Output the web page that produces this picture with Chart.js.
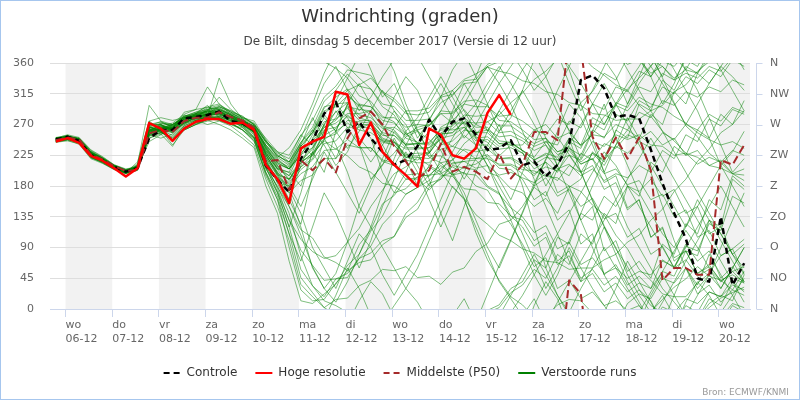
<!DOCTYPE html>
<html>
<head>
<meta charset="utf-8">
<title>Windrichting (graden)</title>
<script src="https://cdn.jsdelivr.net/npm/chart.js@4.4.1/dist/chart.umd.min.js"></script>
<style>
    html, body { margin: 0; padding: 0; background: #fff; }
    #wrap { position: relative; width: 800px; height: 400px; box-sizing: border-box; border: 1px solid #a6c6ee; }
    #wind { display: block; }
    #bron { position: absolute; right: 10px; bottom: 2px; font: 9px "DejaVu Sans", sans-serif; color: #999; }
</style>
</head>
<body>
<div id="wrap">
    <canvas id="wind" width="798" height="398"></canvas>
    <div id="bron">Bron: ECMWF/KNMI</div>
</div>
<script>
// hours counted from 05-12 00:00; first step is run (12 UTC) + 6h = 19:00, then every 6 hours
var firstHour = 19, stepHours = 6;

var dayNames = ['wo','do','vr','za','zo','ma','di','wo','do','vr','za','zo','ma','di','wo'];
var dayDates = ['06-12','07-12','08-12','09-12','10-12','11-12','12-12','13-12','14-12','15-12','16-12','17-12','18-12','19-12','20-12'];
var dirLabels = ['N','NO','O','ZO','Z','ZW','W','NW','N'];

var controle = [248,252,246,225,218,208,201,206, 250,262,262,279,281,284,289,275,
    272,262,210,189,171,220,245,286, 303,259,274,250,230,211,218,238,
    277,252,274,279,255,233,235,247, 210,216,194,211,242,335,342,323,
    281,284,279,233,184,140,103,45, 40,135,35,67];

var hogeResolutie = [245,250,243,224,217,206,194,206, 272,264,246,264,274,278,278,271,
    273,262,211,190,155,235,245,252, 318,314,240,273,230,211,196,179,
    264,255,225,220,235,287,313,284];

var middelste = [247,251,248,226,219,209,202,203, 257,262,259,275,280,280,288,281,
    276,265,216,218,174,218,203,220, 200,250,279,289,270,238,216,191,
    203,242,201,208,201,190,228,191, 211,259,259,247,42,22,252,220,
    251,220,251,203,42,60,60,50, 50,218,211,240];

var runs = [
    [246,250,247,228,216,206,200,204,262,266,258,274,278,283,286,278,270,258,222,196,
     190,218,236,270,288,302,280,274,250,244,222,218,228,256,258,274,252,244,224,240,
     240,262,255,278,270,302,318,345,335,8,22,15,45,38,60,22,35,10,28,55],
    [250,253,248,230,220,210,203,208,270,270,262,270,282,290,285,280,275,268,235,205,
     200,238,258,294,310,322,300,296,276,272,256,262,268,290,288,304,306,298,276,274,
     262,248,250,230,238,215,228,210,240,262,250,285,270,318,300,345,330,355,340,320],
    [244,248,244,222,214,205,199,210,268,258,252,268,276,280,282,276,268,252,205,180,
     140,78,34,12,5,355,338,322,296,284,256,244,222,214,196,208,212,224,206,204,
     190,160,172,130,145,95,110,50,65,35,48,30,72,60,95,70,85,45,62,40],
    [249,251,250,232,222,211,204,207,245,255,265,282,288,296,300,285,276,265,240,218,
     205,228,246,266,272,286,286,290,266,258,240,242,244,262,262,266,246,248,234,236,
     228,205,215,170,180,130,150,85,100,55,70,45,95,80,125,110,160,145,195,180],
    [247,254,245,226,219,207,198,203,258,272,268,284,280,278,276,270,265,250,200,170,
     120,58,34,18,44,52,74,82,100,106,134,146,178,190,214,216,218,200,194,176,
     170,150,162,140,178,190,230,215,262,250,300,290,335,320,355,345,15,5,40,25],
    [251,249,243,224,217,209,202,212,298,275,270,278,285,290,310,292,280,270,245,230,
     225,254,276,310,326,350,346,342,316,304,286,284,288,310,314,330,332,355,2,24,
     35,58,45,80,65,110,95,140,125,180,165,215,200,238,225,262,250,285,270,305],
    [245,247,241,220,213,204,200,215,275,262,240,262,270,275,280,272,262,248,195,160,
     90,28,12,14,38,56,94,116,154,166,190,192,208,196,194,176,174,156,154,136,
     130,100,112,70,85,40,52,25,38,15,28,5,355,338,350,345,8,20,12,50],
    [248,250,246,226,218,207,200,205,255,260,265,275,279,285,288,282,274,262,228,205,
     195,216,224,250,256,276,274,272,246,240,218,214,214,234,238,254,240,240,220,220,
     208,195,215,200,235,225,262,250,285,275,305,295,325,315,340,330,350,340,5,355],
    [250,252,249,229,220,209,203,206,265,268,272,285,292,325,300,288,282,270,250,230,
     215,244,266,304,320,344,326,322,300,296,276,276,278,302,312,334,336,358,6,30,
     40,72,60,105,95,140,130,165,150,180,172,190,165,175,140,150,110,120,80,95],
    [246,249,244,222,215,206,201,209,262,256,238,266,274,282,338,300,278,262,215,190,
     170,188,196,220,220,240,236,236,216,210,190,190,174,194,200,220,220,226,210,210,
     198,180,192,165,175,150,162,132,140,105,118,80,92,60,72,48,58,40,55,62],
    [247,251,247,227,218,208,199,204,252,264,270,280,282,285,290,280,268,255,210,178,
     150,116,104,76,68,56,68,72,94,106,140,156,184,190,210,206,204,180,170,136,
     120,92,105,65,78,45,58,35,48,25,38,30,55,48,85,78,130,120,190,175],
    [249,253,250,231,221,210,202,206,260,270,262,276,284,288,284,274,270,260,230,200,
     185,208,220,260,280,314,296,284,256,246,224,224,230,266,276,292,270,262,242,244,
     232,218,228,222,250,240,280,270,302,295,325,318,345,335,5,355,25,18,45,38],
    [244,246,242,221,215,207,202,210,270,274,268,272,276,270,275,268,255,240,190,150,
     100,36,18,2,14,16,34,42,58,56,62,46,48,36,54,60,84,96,124,130,
     150,178,165,205,195,228,218,242,235,255,248,260,240,250,225,232,210,218,198,205],
    [250,255,251,233,223,211,205,208,250,258,264,288,292,295,292,286,280,275,248,222,
     210,244,262,296,300,302,284,280,264,266,254,266,270,286,272,272,258,262,252,254,
     246,232,240,218,225,200,210,175,185,145,160,105,120,70,85,52,65,40,55,38],
    [245,249,245,224,216,205,198,207,266,262,254,270,278,281,279,272,262,245,198,165,
     110,46,24,2,352,338,312,304,282,274,250,244,224,224,212,216,206,210,196,200,
     192,185,198,188,210,200,228,218,238,228,245,236,258,248,270,262,285,275,295,288],
    [248,252,248,228,219,209,201,205,258,266,270,282,278,280,284,278,270,258,218,185,
     180,204,218,242,246,266,266,270,248,244,226,228,228,250,254,266,250,252,238,242,
     232,218,226,205,212,195,205,188,198,192,210,200,232,220,255,245,278,268,292,285],
    [247,250,244,223,216,206,199,203,255,250,256,272,280,286,296,288,276,262,232,210,
     190,214,228,254,264,284,268,264,244,240,222,222,220,240,246,262,258,258,242,240,
     228,212,222,218,245,235,272,262,298,290,310,300,295,282,272,258,248,240,245,235],
    [251,254,249,230,221,210,203,209,275,280,276,280,286,289,290,282,274,266,236,214,
     205,232,248,274,278,294,276,276,258,254,236,236,236,258,264,280,266,266,246,244,
     232,222,245,240,275,265,300,292,325,318,348,340,3,355,15,8,25,18,35,28],
    [246,248,243,222,214,204,198,206,264,258,250,266,272,276,270,262,250,236,180,140,
     70,12,8,22,36,64,80,114,136,170,176,194,196,210,196,200,180,174,146,124,
     95,62,75,30,42,15,25,5,12,358,5,345,355,335,345,338,355,348,8,2],
    [249,251,247,227,219,208,202,207,256,262,266,278,282,290,294,284,276,268,240,220,
     205,226,236,262,266,282,270,270,254,254,240,242,240,256,258,274,272,274,258,260,
     250,238,245,226,232,212,220,198,205,182,188,160,168,135,145,105,115,78,88,52],
    [247,252,246,226,217,207,200,204,260,268,264,276,284,282,280,276,270,256,214,192,
     178,198,208,232,234,248,236,236,218,214,196,198,194,214,218,234,230,234,220,222,
     212,198,208,202,225,218,245,238,255,248,255,240,238,225,228,212,222,215,232,225],
    [250,250,248,229,220,210,204,208,268,270,258,274,280,284,286,280,272,260,226,198,
     190,216,234,266,276,296,292,290,268,262,242,242,242,264,268,284,282,284,268,268,
     256,242,250,230,236,212,220,185,195,148,160,105,118,75,85,52,62,42,50,40],
    [245,248,245,225,217,206,200,211,272,264,248,262,270,278,282,276,266,250,206,172,
     130,86,64,42,44,46,74,92,124,142,168,178,196,198,208,198,196,178,168,148,
     135,112,122,88,98,65,75,52,60,45,55,50,70,62,92,85,125,115,165,155],
    [248,253,247,227,218,207,201,205,258,264,268,280,286,292,296,290,282,270,244,224,
     215,242,258,290,296,312,298,296,280,280,266,270,268,286,286,300,296,296,282,284,
     275,262,270,250,258,240,255,252,270,262,288,280,305,298,318,310,325,318,335,328],
    [249,250,245,226,219,208,201,208,264,270,262,276,282,288,292,284,272,262,226,196,
     160,124,196,248,304,338,12,40,22,348,300,262,228,252,282,312,340,22,64,102,
     142,184,218,252,226,202,158,122,88,62,28,12,338,302,268,252,228,214,198,188],
    [246,251,246,224,216,206,200,205,254,262,266,280,284,282,286,280,272,258,218,184,
     150,108,62,30,52,98,152,188,212,228,252,260,248,232,198,162,112,72,42,18,
     6,348,322,288,262,238,256,282,298,322,338,356,14,32,44,62,48,42,28,20],
    [248,252,247,226,218,207,201,206,258,266,264,278,280,286,290,280,272,264,236,210,
     188,214,228,246,234,224,208,200,184,180,168,178,188,206,218,242,256,274,284,302,
     316,336,348,6,14,12,354,342,328,320,298,282,260,246,228,222,210,206,198,196],
    [250,252,248,228,220,209,203,207,262,264,260,272,280,286,288,278,270,260,230,204,
     182,208,226,248,260,272,262,258,246,244,234,234,236,248,238,232,220,220,212,212,
     204,202,194,192,180,172,152,138,108,88,58,42,22,18,18,38,52,78,88,102],
    [247,249,244,223,216,205,200,206,266,260,248,264,272,278,282,276,266,252,212,176,
     130,102,84,74,78,98,118,150,174,198,208,222,210,200,178,162,138,124,108,100,
     88,82,70,68,58,60,60,72,80,98,108,130,146,172,190,216,234,258,270,290],
    [249,253,249,229,220,209,202,206,256,264,268,282,286,294,298,290,280,272,246,226,
     212,238,258,286,300,320,328,338,318,308,290,290,294,312,320,336,344,354,348,344,
     334,330,318,314,302,298,286,284,276,278,278,290,298,318,328,348,2,16,24,32],
    [248,251,246,226,218,207,201,207,260,264,270,280,276,282,288,282,276,266,240,222,
     236,262,300,345,20,60,30,350,310,330,290,250,275,310,350,15,340,300,260,280,
     320,5,40,15,330,290,320,355,30,70,40,10,340,20,60,35,80,50,20,350],
    [247,252,248,227,219,208,200,205,256,262,258,272,280,284,290,284,274,264,228,206,
     200,180,230,270,240,200,150,120,170,220,260,230,190,140,100,150,200,240,270,230,
     180,120,60,20,350,300,250,200,240,280,250,200,150,100,60,30,50,90,130,170],
    [245,250,246,225,217,206,199,206,262,268,264,272,286,298,280,274,268,260,220,188,
     160,210,250,280,260,300,330,300,270,310,340,320,280,240,270,300,330,355,330,300,
     260,220,180,210,250,200,160,120,80,40,10,340,300,330,10,40,20,350,320,290],
    [249,252,247,228,219,208,202,208,268,274,266,278,284,286,284,280,270,262,224,200,
     175,140,90,60,30,70,110,90,50,20,50,80,120,160,200,170,130,90,60,100,
     140,180,220,260,300,280,240,200,160,120,90,60,30,10,350,20,50,30,60,90],
    [246,249,245,224,216,206,200,204,250,256,262,276,282,292,296,288,278,266,238,212,
     205,240,280,250,220,260,300,270,240,210,240,270,300,330,300,270,240,210,180,150,
     110,70,30,60,100,140,180,220,260,300,340,20,50,20,350,320,280,240,200,220],
    [250,253,249,229,221,209,203,206,262,260,250,268,276,282,276,270,262,250,208,170,
     120,170,230,200,260,300,240,190,210,250,220,180,210,240,290,330,300,260,290,320,
     350,15,340,300,260,220,260,300,250,210,170,140,110,90,120,160,130,100,70,40],
    [247,251,247,226,218,207,201,205,260,266,262,276,280,284,288,280,272,262,232,208,
     195,232,262,240,210,230,270,250,200,170,200,240,280,250,220,190,220,260,290,270,
     230,190,150,110,70,40,80,120,90,50,20,355,330,300,270,300,330,355,20,45],
    [248,250,246,227,219,208,201,206,258,264,268,280,284,288,292,284,276,268,244,224,
     215,250,290,330,355,320,290,310,340,5,30,10,340,310,280,250,270,300,330,355,
     20,50,80,110,140,170,200,230,210,180,150,120,90,60,90,120,150,180,150,120],
    [245,248,244,223,215,205,199,210,266,260,246,262,270,278,280,272,262,246,200,160,
     110,70,120,170,140,100,60,100,150,190,230,200,160,120,160,200,240,210,170,130,
     90,50,20,50,90,60,30,5,340,300,330,355,20,350,320,290,250,210,230,260],
    [250,252,249,230,221,210,203,207,266,272,270,282,288,292,294,286,278,270,246,228,
     220,255,240,270,300,280,250,230,260,290,270,240,260,290,320,290,260,230,260,290,
     320,290,250,210,170,130,90,50,20,350,320,290,260,230,200,170,140,110,80,50],
    [247,250,245,225,217,206,200,204,254,258,264,278,282,286,290,282,272,258,222,194,
     180,150,190,230,200,170,140,180,220,260,240,210,180,220,250,280,250,220,190,160,
     200,240,280,320,355,30,60,90,60,30,5,340,10,40,70,100,130,110,80,60],
    [249,253,248,228,220,209,202,206,262,268,260,274,284,290,288,280,274,264,234,214,
     205,225,255,285,260,235,260,290,320,290,260,280,310,340,310,280,300,330,355,330,
     300,270,240,210,240,270,300,330,300,270,240,210,180,150,120,150,180,210,180,150],
    [246,250,246,226,218,207,200,205,258,264,266,278,280,282,286,278,270,260,226,198,
     170,120,60,30,10,40,80,120,90,60,30,60,100,140,180,160,120,80,40,15,
     350,320,340,10,40,70,100,130,160,190,220,250,220,190,160,130,100,70,40,10],
    [248,252,247,227,219,208,201,206,256,262,266,280,286,290,292,284,276,266,238,216,
     208,240,225,260,290,265,240,215,240,265,290,260,230,200,230,260,290,320,350,20,
     50,80,50,20,355,330,300,270,300,330,355,25,55,85,115,90,60,30,60,90]
];

// a direction series is made continuous (shortest turn between steps) and drawn
// once per 360 degree band it touches, so a pass through north leaves the top and comes back at the bottom
function unwrap(vals) {
    var out = [vals[0]];
    for (var i = 1; i < vals.length; i++) {
        var d = vals[i] - vals[i - 1];
        if (d > 180) d -= 360;
        else if (d < -180) d += 360;
        out.push(out[i - 1] + d);
    }
    return out;
}

function lineSets(vals, style) {
    var u = unwrap(vals);
    var lo = Math.floor(Math.min.apply(null, u) / 360);
    var hi = Math.floor(Math.max.apply(null, u) / 360);
    var sets = [];
    for (var k = lo; k <= hi; k++) {
        sets.push(Object.assign({
            data: u.map(function (v, i) { return {x: firstHour + stepHours * i, y: v - 360 * k}; })
        }, style));
    }
    return sets;
}

var styleRuns = {label: 'Verstoorde runs', borderColor: 'rgba(0,128,0,0.5)', borderWidth: 1, order: 3};
var styleCtrl = {label: 'Controle', borderColor: '#000000', borderWidth: 2.5, borderDash: [6, 4], order: 2};
var styleMed = {label: 'Middelste (P50)', borderColor: '#a52a2a', borderWidth: 2, borderDash: [8, 4], order: 1};
var styleHres = {label: 'Hoge resolutie', borderColor: '#ff0000', borderWidth: 2.5, order: 0};

var datasets = [];
runs.forEach(function (r) { datasets = datasets.concat(lineSets(r, styleRuns)); });
datasets = datasets.concat(lineSets(controle, styleCtrl), lineSets(middelste, styleMed), lineSets(hogeResolutie, styleHres));

var legendItems = [
    {text: 'Controle', strokeStyle: '#000000', lineDash: [6, 4]},
    {text: 'Hoge resolutie', strokeStyle: '#ff0000', lineDash: []},
    {text: 'Middelste (P50)', strokeStyle: '#a52a2a', lineDash: [6, 4]},
    {text: 'Verstoorde runs', strokeStyle: '#008000', lineDash: []}
];

var dayBands = {
    id: 'dayBands',
    beforeDraw: function (chart) {
        var x = chart.scales.x, a = chart.chartArea, ctx = chart.ctx;
        ctx.save();
        ctx.fillStyle = '#f2f2f2';
        for (var d = 0; d < dayDates.length; d += 2) {
            var x0 = Math.max(x.getPixelForValue(24 * (d + 1)), a.left);
            var x1 = Math.min(x.getPixelForValue(24 * (d + 2)), a.right);
            if (x1 > x0) ctx.fillRect(x0, a.top, x1 - x0, a.bottom - a.top);
        }
        ctx.restore();
    }
};

var rightAxisLine = {
    id: 'rightAxisLine',
    afterDraw: function (chart) {
        var y = chart.scales.y2, a = chart.chartArea, ctx = chart.ctx;
        var px = Math.round(a.right + 6) + 0.5;
        ctx.save();
        ctx.strokeStyle = '#ccd6eb';
        ctx.lineWidth = 1;
        ctx.beginPath();
        ctx.moveTo(px, a.top);
        ctx.lineTo(px, a.bottom);
        y.ticks.forEach(function (t) {
            var py = Math.round(y.getPixelForValue(t.value)) + 0.5;
            ctx.moveTo(px, py);
            ctx.lineTo(px + 6, py);
        });
        ctx.stroke();
        ctx.restore();
    }
};

Chart.defaults.font.family = '"DejaVu Sans", sans-serif';
Chart.defaults.color = '#666';

var ctx = document.getElementById('wind');
var myChart = new Chart(ctx, {
    type: 'line',
    data: {datasets: datasets},
    options: {
        responsive: false,
        animation: false,
        events: [],
        layout: {padding: {left: 0, right: 0, top: 0, bottom: 10}},
        elements: {
            point: {radius: 0},
            line: {tension: 0, fill: false, borderJoinStyle: 'round'}
        },
        scales: {
            x: {
                type: 'linear',
                min: 16,
                max: 376,
                afterBuildTicks: function (scale) {
                    scale.ticks = dayDates.map(function (d, i) { return {value: 24 * (i + 1)}; });
                },
                afterFit: function (scale) { scale.height = 40; },
                ticks: {
                    autoSkip: false,
                    maxRotation: 0,
                    align: 'start',
                    padding: 1,
                    color: '#666',
                    font: {size: 11, lineHeight: 1.3},
                    callback: function (value) {
                        var i = Math.round(value / 24) - 1;
                        return [dayNames[i], dayDates[i]];
                    }
                },
                grid: {drawOnChartArea: false, drawTicks: true, tickLength: 8, color: '#ccd6eb'},
                border: {display: true, color: '#ccd6eb'}
            },
            y: {
                position: 'left',
                min: 0,
                max: 360,
                afterFit: function (scale) { scale.width = 49; },
                ticks: {stepSize: 45, padding: 16, color: '#666', font: {size: 11}},
                grid: {color: '#dedede', drawTicks: false},
                border: {display: false}
            },
            y2: {
                position: 'right',
                min: 0,
                max: 360,
                afterFit: function (scale) { scale.width = 49; },
                ticks: {
                    stepSize: 45,
                    padding: 20,
                    color: '#666',
                    font: {size: 11},
                    callback: function (value) { return dirLabels[Math.round(value / 45)]; }
                },
                grid: {display: false, drawTicks: false},
                border: {display: false}
            }
        },
        plugins: {
            title: {
                display: true,
                text: 'Windrichting (graden)',
                color: '#333',
                font: {size: 18, weight: 'normal'},
                padding: {top: 6, bottom: 2}
            },
            subtitle: {
                display: true,
                text: 'De Bilt, dinsdag 5 december 2017 (Versie di 12 uur)',
                color: '#444',
                font: {size: 12, weight: 'normal'},
                padding: {top: 4, bottom: 14}
            },
            legend: {
                position: 'bottom',
                labels: {
                    usePointStyle: true,
                    pointStyleWidth: 17,
                    padding: 18,
                    color: '#333',
                    font: {size: 12},
                    generateLabels: function () {
                        return legendItems.map(function (it, i) {
                            return {
                                text: it.text,
                                strokeStyle: it.strokeStyle,
                                fillStyle: it.strokeStyle,
                                lineDash: it.lineDash,
                                lineWidth: 2,
                                pointStyle: 'line',
                                hidden: false,
                                fontColor: '#333',
                                datasetIndex: i
                            };
                        });
                    }
                }
            },
            tooltip: {enabled: false}
        }
    },
    plugins: [dayBands, rightAxisLine]
});
</script>
</body>
</html>
